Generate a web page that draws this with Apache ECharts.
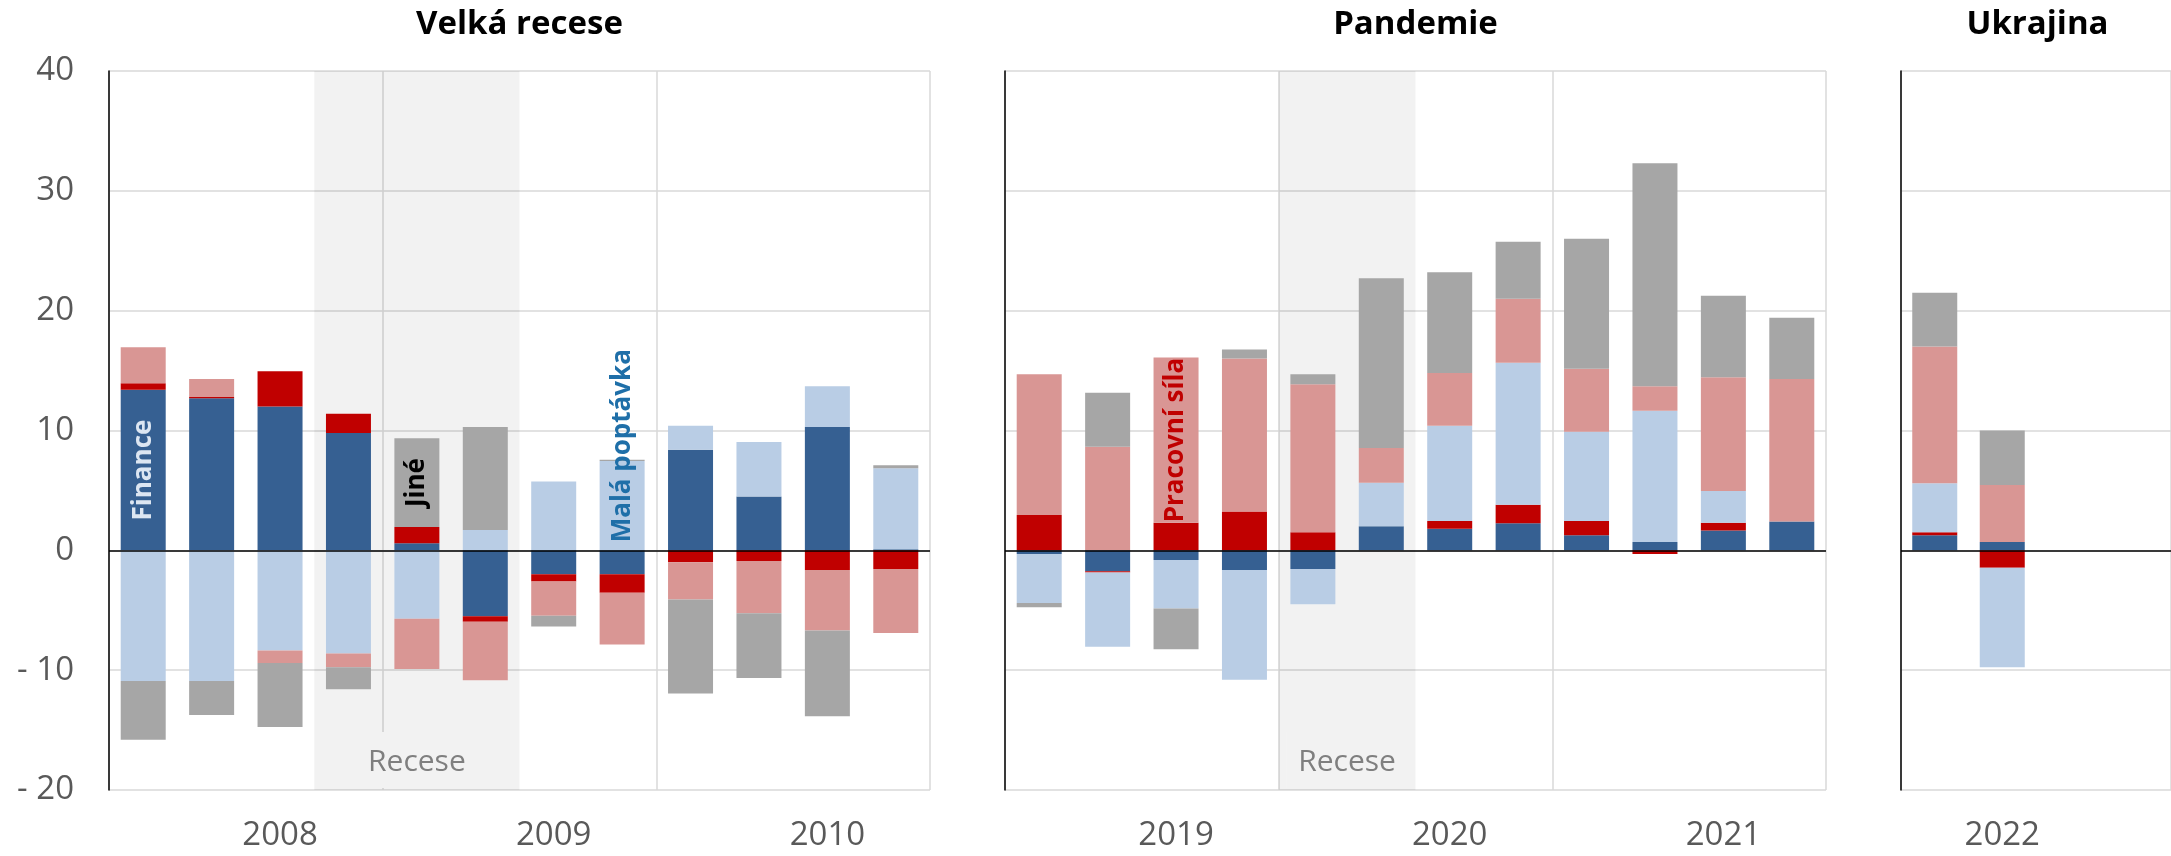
<!DOCTYPE html>
<html>
<head>
<meta charset="utf-8">
<title>Bariéry růstu</title>
<script src="https://cdn.jsdelivr.net/npm/echarts@6/dist/echarts.min.js"></script>
<style>
  body { margin: 0; background: #fff; }
  #main { width: 2171px; height: 856px; }
</style>
</head>
<body>
<div id="main"></div>
<script>
// ctvrtleti v jednotlivych panelech
var quartersRecese = ['2008 Q1', '2008 Q2', '2008 Q3', '2008 Q4', '2009 Q1', '2009 Q2', '2009 Q3', '2009 Q4', '2010 Q1', '2010 Q2', '2010 Q3', '2010 Q4'];
var quartersPandemie = ['2019 Q1', '2019 Q2', '2019 Q3', '2019 Q4', '2020 Q1', '2020 Q2', '2020 Q3', '2020 Q4', '2021 Q1', '2021 Q2', '2021 Q3', '2021 Q4'];
var quartersUkrajina = ['2022 Q1', '2022 Q2', '2022 Q3', '2022 Q4'];

var panelTitles = ['Velká recese', 'Pandemie', 'Ukrajina'];
var yearLabelAt = ['2008 Q3', '2009 Q3', '2010 Q3', '2019 Q3', '2020 Q3', '2021 Q3', '2022 Q2'];
var recessionRecese = ['2008 Q4', '2009 Q2'];
var recessionPandemie = ['2020 Q1', '2020 Q2'];
var yMin = -20, yMax = 40, yStep = 10;

// prispevky faktoru (p. b.)
var financeRecese   = [13.4, 12.7, 12.0, 9.8, 0.6, -5.5, -2.0, -2.0, 8.4, 4.5, 10.3, 0.1];
var materialRecese  = [0.55, 0.1, 2.95, 1.6, 1.35, -0.45, -0.6, -1.55, -1.0, -0.9, -1.65, -1.55];
var poptavkaRecese  = [-10.9, -10.9, -8.35, -8.6, -5.7, 1.7, 5.75, 7.45, 2.0, 4.55, 3.4, 6.75];
var pracovniRecese  = [3.0, 1.5, -1.05, -1.15, -4.2, -4.9, -2.85, -4.3, -3.1, -4.35, -5.05, -5.35];
var jineRecese      = [-4.9, -2.85, -5.35, -1.85, 7.4, 8.6, -0.9, 0.1, -7.85, -5.4, -7.15, 0.25];

var financePandemie  = [-0.3, -1.75, -0.8, -1.65, -1.55, 2.0, 1.8, 2.25, 1.25, 0.7, 1.65, 2.4];
var materialPandemie = [2.95, -0.1, 2.3, 3.25, 1.5, 0, 0.65, 1.55, 1.2, -0.3, 0.65, 0];
var poptavkaPandemie = [-4.1, -6.2, -4.05, -9.15, -2.95, 3.65, 7.95, 11.85, 7.45, 10.95, 2.65, 0];
var pracovniPandemie = [11.75, 8.65, 13.8, 12.75, 12.35, 2.9, 4.4, 5.35, 5.25, 2.05, 9.5, 11.9];
var jinePandemie     = [-0.35, 4.5, -3.4, 0.75, 0.85, 14.15, 8.4, 4.75, 10.85, 18.6, 6.8, 5.1];

var financeUkrajina  = [1.25, 0.7];
var materialUkrajina = [0.25, -1.45];
var poptavkaUkrajina = [4.1, -8.3];
var pracovniUkrajina = [11.4, 4.75];
var jineUkrajina     = [4.5, 4.55];

var factorNames = ['Finance', 'Materiál', 'Malá poptávka', 'Pracovní síla', 'Jiné'];
var factorColors = ['#366092', '#C00000', '#B9CDE5', '#D99694', '#A6A6A6'];

// popisky primo v grafu
var notes = [
  {panel: 0, factor: 0, quarter: '2008 Q1', text: 'Finance', color: '#DCE6F2'},
  {panel: 0, factor: 4, quarter: '2009 Q1', text: 'Jiné', color: '#000000'},
  {panel: 0, factor: 2, quarter: '2009 Q4', text: 'Malá poptávka', color: '#1F6FA8', fromBottom: true},
  {panel: 1, factor: 3, quarter: '2019 Q3', text: 'Pracovní síla', color: '#C00000'}
];

var panels = [
  {cats: quartersRecese, values: [financeRecese, materialRecese, poptavkaRecese, pracovniRecese, jineRecese], recession: recessionRecese},
  {cats: quartersPandemie, values: [financePandemie, materialPandemie, poptavkaPandemie, pracovniPandemie, jinePandemie], recession: recessionPandemie},
  {cats: quartersUkrajina, values: [financeUkrajina, materialUkrajina, poptavkaUkrajina, pracovniUkrajina, jineUkrajina], recession: null}
];

var FONT = "'Open Sans', sans-serif";
var gridBoxes = [
  {left: 109, top: 71, width: 821, height: 719},
  {left: 1005, top: 71, width: 821, height: 719},
  {left: 1901, top: 71, width: 273, height: 719}
];

var chart = echarts.init(document.getElementById('main'));

var xAxes = [], yAxes = [], series = [], titles = [];

panels.forEach(function (p, pi) {
  var box = gridBoxes[pi];
  xAxes.push({
    gridIndex: pi,
    type: 'category',
    data: p.cats,
    axisLine: {show: false},
    axisTick: {show: false, interval: 0},
    axisLabel: {
      interval: function (i, v) { return yearLabelAt.indexOf(v) >= 0; },
      formatter: function (v) { return v.slice(0, 4); },
      margin: 29,
      lineHeight: 33,
      fontSize: 33,
      fontFamily: FONT,
      color: '#595959'
    },
    splitLine: {
      show: true,
      interval: function (i) { return i % 4 === 0; },
      lineStyle: {color: '#D9D9D9', width: 1.5}
    }
  });
  yAxes.push({
    gridIndex: pi,
    type: 'value',
    min: yMin,
    max: yMax,
    interval: yStep,
    axisLine: {show: true, lineStyle: {color: '#000', width: 1.5}},
    axisTick: {show: false},
    axisLabel: {
      show: pi === 0,
      margin: 35,
      fontSize: 33,
      fontFamily: FONT,
      color: '#595959',
      formatter: function (v) { return v < 0 ? '- ' + Math.abs(v) : String(v); }
    },
    splitLine: {lineStyle: {color: '#D9D9D9', width: 1.5}}
  });
  titles.push({
    type: 'text',
    x: box.left + box.width / 2,
    y: 25,
    style: {
      text: panelTitles[pi],
      textAlign: 'center',
      textVerticalAlign: 'middle',
      font: 'bold 33px ' + FONT,
      fill: '#000'
    }
  });

  factorNames.forEach(function (name, fi) {
    var data = p.values[fi].map(function (v, qi) {
      var note = notes.filter(function (n) {
        return n.panel === pi && n.factor === fi && n.quarter === p.cats[qi];
      })[0];
      if (!note) return v;
      return {
        value: v,
        label: {
          show: true,
          formatter: note.text,
          position: note.fromBottom ? 'insideBottom' : 'inside',
          distance: 8,
          rotate: 90,
          align: note.fromBottom ? 'left' : 'center',
          verticalAlign: 'middle',
          color: note.color,
          fontFamily: FONT,
          fontSize: 26,
          fontWeight: 'bold'
        }
      };
    });
    var s = {
      name: name,
      type: 'bar',
      xAxisIndex: pi,
      yAxisIndex: pi,
      stack: 'panel' + pi,
      barWidth: 45,
      silent: true,
      itemStyle: {color: factorColors[fi]},
      data: data
    };
    if (fi === 0) {
      s.markLine = {
        silent: true,
        symbol: ['none', 'none'],
        label: {show: false},
        lineStyle: {color: '#000', width: 1.5, type: 'solid'},
        data: [{yAxis: 0}]
      };
      if (p.recession) {
        s.markArea = {
          silent: true,
          itemStyle: {color: 'rgba(0,0,0,0.051)'},
          label: {
            show: true,
            position: 'insideBottom',
            distance: 2,
            formatter: 'Recese',
            color: '#7F7F7F',
            fontFamily: FONT,
            fontSize: 30,
            lineHeight: 34,
            backgroundColor: '#F2F2F2',
            padding: [13, 12, 9, 12]
          },
          data: [[{xAxis: p.recession[0]}, {xAxis: p.recession[1]}]]
        };
      }
    }
    series.push(s);
  });
});

var option = {
  animation: false,
  grid: gridBoxes,
  xAxis: xAxes,
  yAxis: yAxes,
  graphic: titles,
  series: series
};
chart.setOption(option);
</script>
</body>
</html>
